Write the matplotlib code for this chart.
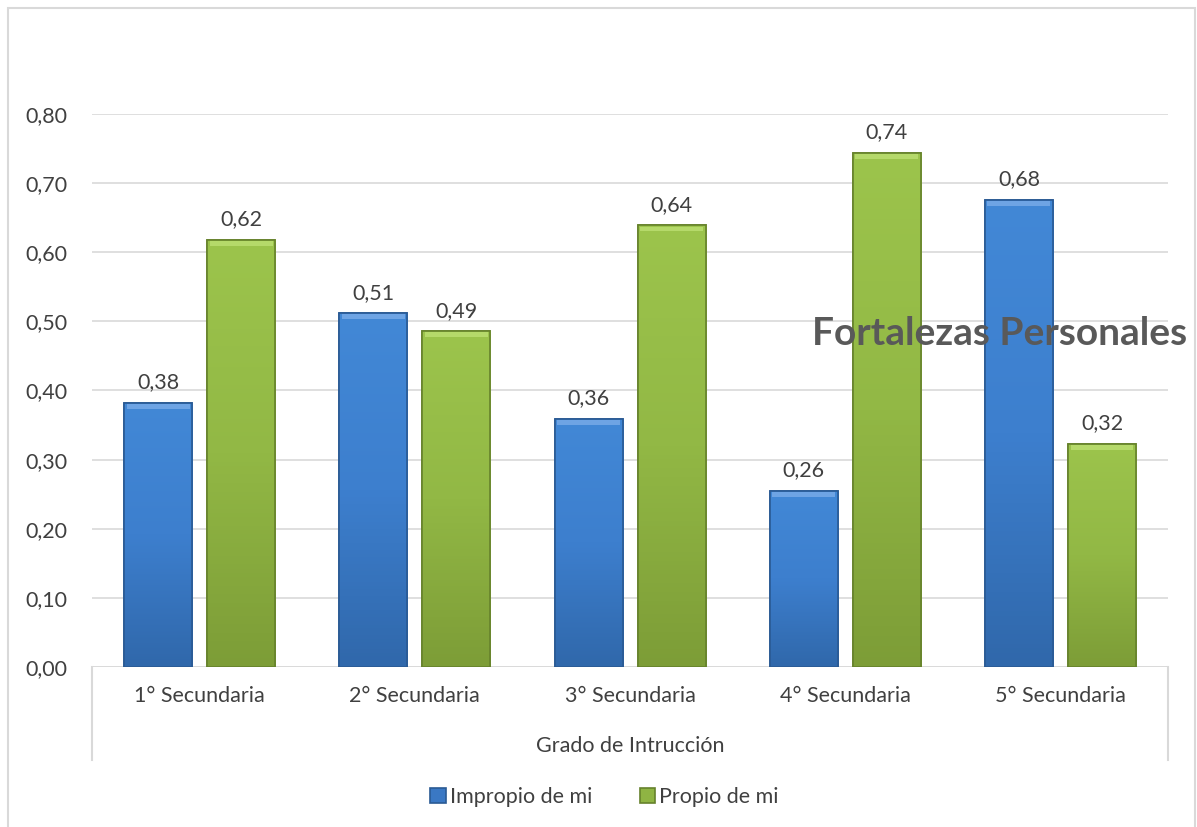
import numpy as np
import matplotlib.pyplot as plt
from matplotlib.patches import Rectangle
from matplotlib.colors import LinearSegmentedColormap

plt.rcParams['font.family'] = ['Lato', 'DejaVu Sans']

grados = ['1° Secundaria', '2° Secundaria', '3° Secundaria', '4° Secundaria', '5° Secundaria']
impropio = [0.382, 0.512, 0.359, 0.255, 0.676]
propio = [0.618, 0.486, 0.639, 0.744, 0.323]

blue_edge = '#2a5a94'
green_edge = '#66822c'
txt = '#404040'

fig = plt.figure(figsize=(11.97, 8.27), dpi=100)
ax = fig.add_axes([0.0769, 0.1935, 0.8989, 0.6687])

x = np.arange(len(grados))
w = 0.316
off = 0.193
b1 = ax.bar(x - off, impropio, w, color='#3a78c4', edgecolor=blue_edge, linewidth=1.2, zorder=3,
            label='Impropio de mi')
b2 = ax.bar(x + off, propio, w, color='#8fb443', edgecolor=green_edge, linewidth=1.2, zorder=3,
            label='Propio de mi')

# vertical gradient plus a light top bevel
cm_b = LinearSegmentedColormap.from_list('b', ['#3068ab', '#3d7fce', '#4288d6'])
cm_g = LinearSegmentedColormap.from_list('g', ['#7d9d37', '#92b845', '#9cc44c'])
grad = np.linspace(0, 1, 100).reshape(-1, 1)
for bars, cm, hl in [(b1, cm_b, '#6ea4e4'), (b2, cm_g, '#b5d96a')]:
    for r in bars:
        x0, h, bw = r.get_x(), r.get_height(), r.get_width()
        im = ax.imshow(grad, cmap=cm, origin='lower', aspect='auto',
                       extent=[x0, x0 + bw, 0, h], zorder=3.5)
        im.set_clip_path(r)
        ax.add_patch(Rectangle((x0 + 0.012, h - 0.009), bw - 0.024, 0.007,
                               color=hl, zorder=4, linewidth=0))
        ax.add_patch(Rectangle((x0, 0), bw, h, fill=False,
                               edgecolor=r.get_edgecolor(), linewidth=1.2, zorder=4.5))

for xi, v in zip(x - off, impropio):
    ax.text(xi, v + 0.015, f'{v:.2f}'.replace('.', ','), ha='center', va='bottom', fontsize=15.5, color=txt)
for xi, v in zip(x + off, propio):
    ax.text(xi, v + 0.015, f'{v:.2f}'.replace('.', ','), ha='center', va='bottom', fontsize=15.5, color=txt)

ax.set_xlim(-0.5, len(grados) - 0.5)
ax.set_ylim(0, 0.8)
yt = np.arange(0, 0.81, 0.1)
ax.set_yticks(yt)
ax.set_yticklabels([f'{t:.2f}'.replace('.', ',') for t in yt], fontsize=15.5, color=txt)
ax.tick_params(axis='y', length=0, pad=18)
ax.set_xticks(x)
ax.set_xticklabels(grados, fontsize=15.5, color=txt)
ax.tick_params(axis='x', length=0, pad=14)
ax.grid(axis='y', color='#d9d9d9', linewidth=1.2, zorder=0)
for s in ax.spines.values():
    s.set_visible(False)
ax.axhline(0, color='#d9d9d9', linewidth=1.2, zorder=2)

# outer category box lines
for b in [-0.5, len(grados) - 0.5]:
    ax.plot([b, b], [0, -0.168], transform=ax.get_xaxis_transform(), color='#d9d9d9',
            linewidth=1.5, clip_on=False)

ax.text(0.5, -0.142, 'Grado de Intrucción', transform=ax.transAxes, ha='center', va='center',
        fontsize=15.5, color=txt)

fig.text(0.835, 0.597, 'Fortalezas Personales', ha='center', va='center', fontsize=28,
         fontweight='bold', color='#595959', zorder=10)

fig.legend(handles=[b1, b2], loc='center', bbox_to_anchor=(0.505, 0.036), ncol=2, frameon=False,
           fontsize=15.5, handlelength=0.7, handleheight=0.7, handletextpad=0.2, columnspacing=2.2,
           labelcolor=txt)

fig.patches.append(Rectangle((0.0067, -0.01), 0.9915, 1.0003, transform=fig.transFigure,
                             fill=False, edgecolor='#d9d9d9', linewidth=1.5))

fig.savefig('out.png', dpi=100)
